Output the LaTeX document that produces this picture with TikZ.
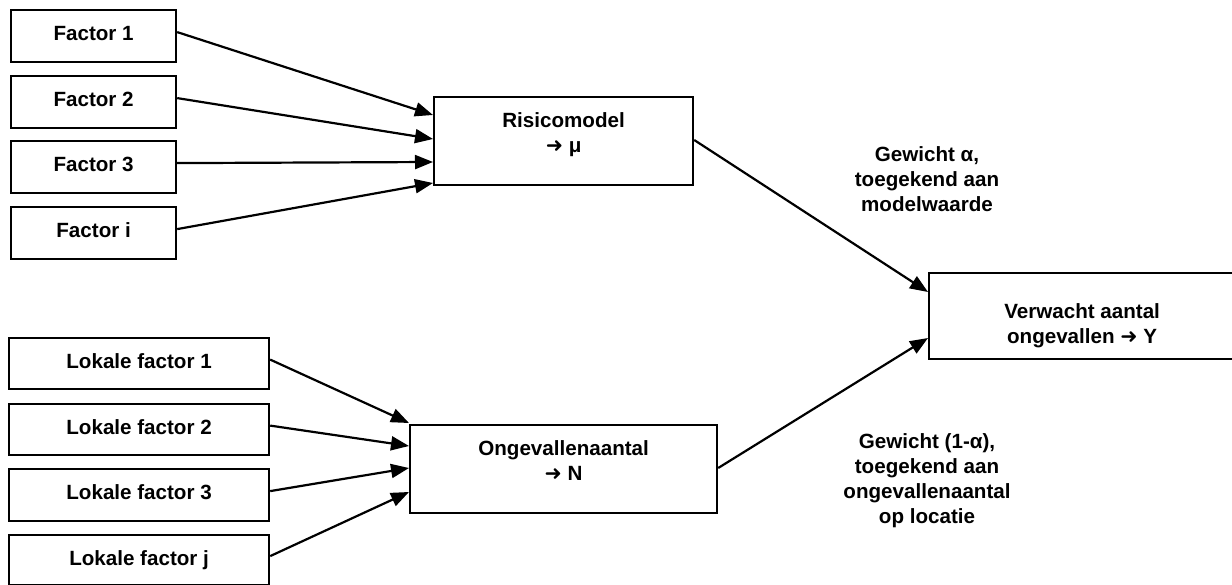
\documentclass[tikz,border=0pt]{standalone}
\usepackage{fontspec}
\setmainfont{Liberation Sans}
\newfontfamily\arrowfont{DejaVu Sans}
\usetikzlibrary{arrows.meta}
\newcommand\rarr{{\arrowfont\bfseries ➜}}
\newcommand\stk[1]{\begin{tabular}[t]{@{}c@{}}#1\end{tabular}}
\begin{document}
\begin{tikzpicture}[x=1pt,y=-1pt,
  font=\bfseries\fontsize{20.6}{25}\selectfont,
  box/.style={draw, line width=2.2pt, inner sep=0pt, anchor=north west},
  lbl/.style={inner sep=0pt, anchor=base},
  arr/.style={line width=2.2pt, -{Triangle[length=18pt,width=14pt]}}]
\useasboundingbox (0,0) rectangle (1232,585);
% factor boxes
\node[box, minimum width=165pt, text height=30pt, text depth=22pt] (f1) at (10,9) {Factor 1};
\node[box, minimum width=165pt, text height=30pt, text depth=22pt] (f2) at (10,75) {Factor 2};
\node[box, minimum width=165pt, text height=30pt, text depth=22pt] (f3) at (10,140) {Factor 3};
\node[box, minimum width=165pt, text height=30pt, text depth=22pt] (fi) at (10,206) {Factor i};
% local factor boxes
\node[box, minimum width=260pt, text height=30pt, text depth=21pt] (l1) at (8,337) {Lokale factor 1};
\node[box, minimum width=260pt, text height=30pt, text depth=21pt] (l2) at (8,403) {Lokale factor 2};
\node[box, minimum width=260pt, text height=30pt, text depth=22pt] (l3) at (8,468) {Lokale factor 3};
\node[box, minimum width=260pt, text height=30pt, text depth=20pt] (lj) at (8,534) {Lokale factor j};
% central boxes
\node[box, minimum width=259pt, text height=30pt, text depth=58pt] (r) at (433,96) {\stk{Risicomodel\\\rarr{} μ}};
\node[box, minimum width=307pt, text height=30pt, text depth=58pt] (o) at (409,424) {\stk{Ongevallenaantal\\\rarr{} N}};
\node[box, minimum width=306pt, text height=45pt, text depth=41pt] (v) at (928,272) {\stk{Verwacht aantal\\ongevallen \rarr{} Y}};
% labels
\node[lbl] (la) at (927,162) {\stk{Gewicht α,\\toegekend aan\\modelwaarde}};
\node[lbl] (lb) at (927,448) {\stk{Gewicht (1-α),\\toegekend aan\\ongevallenaantal\\op locatie}};
% arrows to Risicomodel
\draw[arr] ([yshift=4pt]f1.east) -- ([yshift=-19pt]r.north west);
\draw[arr] ([yshift=4pt]f2.east) -- ([yshift=-43pt]r.north west);
\draw[arr] ([yshift=4pt]f3.east) -- ([yshift=-66pt]r.north west);
\draw[arr] ([yshift=4pt]fi.east) -- ([yshift=-87pt]r.north west);
% arrows to Ongevallenaantal
\draw[arr] ([yshift=4pt]l1.east) -- ([yshift=1pt]o.north west);
\draw[arr] ([yshift=4pt]l2.east) -- ([yshift=-22pt]o.north west);
\draw[arr] ([yshift=4pt]l3.east) -- ([yshift=-44pt]o.north west);
\draw[arr] ([yshift=4pt]lj.east) -- ([yshift=-68pt]o.north west);
% arrows to Verwacht
\draw[arr] ([yshift=-44pt]r.north east) -- ([yshift=-20pt]v.north west);
\draw[arr] ([yshift=-44pt]o.north east) -- ([yshift=-66pt]v.north west);
\end{tikzpicture}
\end{document}
